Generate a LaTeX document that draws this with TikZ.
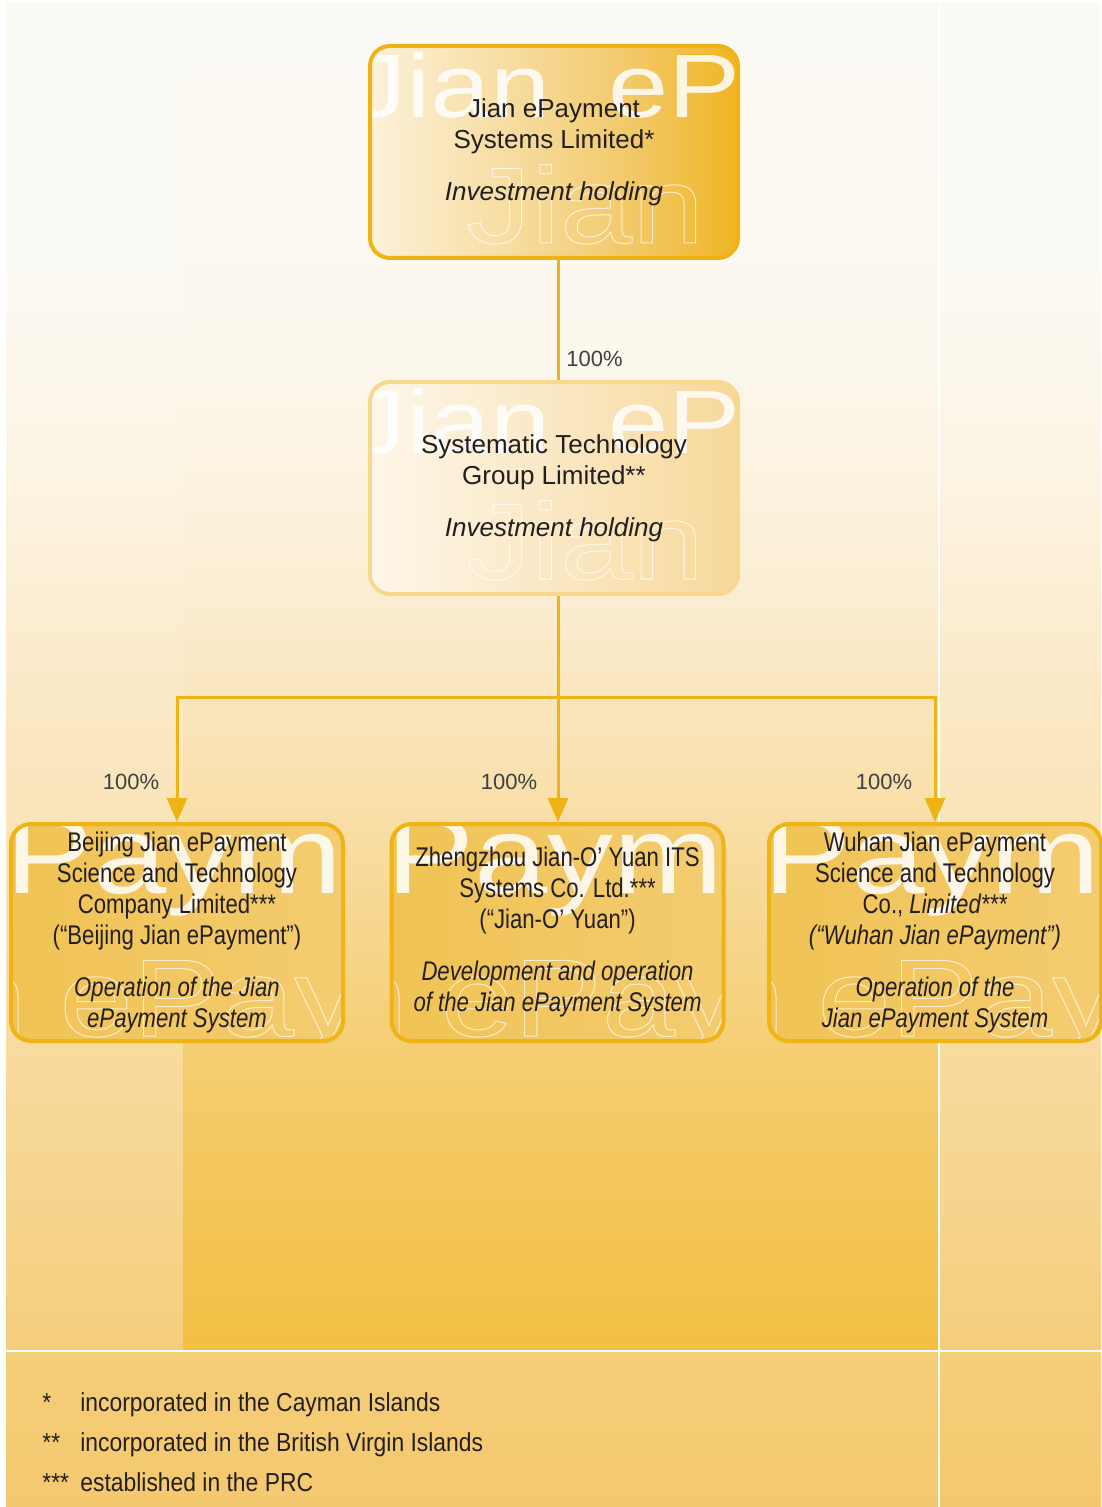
\documentclass[tikz,border=0pt]{standalone}
\usepackage{fontspec}
\setmainfont{Liberation Sans}
\newfontfamily\condfont{Liberation Sans}[FakeStretch=0.82]
\newfontfamily\footfont{Liberation Sans}[FakeStretch=0.88]
\newfontfamily\wmfont{Liberation Sans}[FakeStretch=1.2]
\usetikzlibrary{arrows.meta,calc}

\definecolor{gold}{HTML}{EFB314}
\definecolor{goldlt}{HTML}{F7D88C}
\definecolor{ink}{HTML}{231F20}
\definecolor{lbl}{HTML}{404040}
\definecolor{bgA}{HTML}{FCFAF5}
\definecolor{bgB}{HTML}{FCF5E6}
\definecolor{bgC}{HTML}{FBE9C6}
\definecolor{bgD}{HTML}{F8DBA0}
\definecolor{bgE}{HTML}{F5CE7C}
\definecolor{pnB}{HTML}{FCF8EE}
\definecolor{pnC}{HTML}{FBEDD2}
\definecolor{pnD}{HTML}{F8DCA0}
\definecolor{pnE}{HTML}{F4CB68}
\definecolor{pnF}{HTML}{F2BF42}
\definecolor{ftA}{HTML}{F5CE79}
\definecolor{ftB}{HTML}{F4C86E}
\definecolor{tfA}{HTML}{FCF1DA}
\definecolor{tfB}{HTML}{F6D894}
\definecolor{tfC}{HTML}{F2C762}
\definecolor{tfD}{HTML}{EFB522}
\definecolor{sfA}{HTML}{FDF6E9}
\definecolor{sfB}{HTML}{FAE8C4}
\definecolor{sfC}{HTML}{F7D899}
\definecolor{bfA}{HTML}{F1C354}
\definecolor{bfB}{HTML}{F4CC70}

\pgfdeclareverticalshading{bgsh}{100bp}{color(0bp)=(bgE); color(25bp)=(bgE); color(36.5bp)=(bgD); color(49.1bp)=(bgC); color(58.4bp)=(bgB); color(65.8bp)=(bgA); color(100bp)=(bgA)}
\pgfdeclareverticalshading{pnsh}{100bp}{color(0bp)=(pnF); color(25bp)=(pnF); color(34.3bp)=(pnE); color(43.6bp)=(pnD); color(52.8bp)=(pnC); color(62.1bp)=(pnB); color(75bp)=(bgA); color(100bp)=(bgA)}
\pgfdeclareverticalshading{ftsh}{100bp}{color(0bp)=(ftB); color(25bp)=(ftB); color(75bp)=(ftA); color(100bp)=(ftA)}
\pgfdeclarehorizontalshading{topsh}{100bp}{color(0bp)=(tfA); color(25bp)=(tfA); color(48bp)=(tfB); color(62bp)=(tfC); color(75bp)=(tfD); color(100bp)=(tfD)}
\pgfdeclarehorizontalshading{secsh}{100bp}{color(0bp)=(sfA); color(25bp)=(sfA); color(50bp)=(sfB); color(75bp)=(sfC); color(100bp)=(sfC)}
\pgfdeclarehorizontalshading{botsh}{100bp}{color(0bp)=(bfA); color(25bp)=(bfA); color(75bp)=(bfB); color(100bp)=(bfB)}

\newcommand\wmoutline[1]{\special{pdf:literal direct 1 Tr 0.5 w}#1\special{pdf:literal direct 0 Tr}}

\tikzset{
  boxline/.style={draw=gold, line width=2pt, rounded corners=10pt},
  topbox/.style={boxline, minimum width=184pt, minimum height=106pt, align=center, text=ink, font=\fontsize{13}{15.5}\selectfont},
  secbox/.style={topbox, draw=goldlt},
  botbox/.style={boxline, minimum width=166pt, minimum height=108.5pt, align=center, text=ink, font=\condfont\fontsize{13.5}{15.5}\selectfont},
  conn/.style={draw=gold, line width=1.5pt},
  arr/.style={conn, -{Triangle[width=10pt,length=12pt]}},
  pct/.style={text=lbl, font=\fontsize{11}{13}\selectfont, inner sep=0pt},
  wmfill/.style={text=white, text opacity=0.85, inner sep=0pt, anchor=base west},
  wmline/.style={text=white, inner sep=0pt, anchor=base west},
  foot/.style={text=ink, font=\footfont\fontsize{13}{15}\selectfont, inner sep=0pt, anchor=base west},
  wmbig/.style={font=\wmfont\fontsize{45}{45}\selectfont},
  wmmid/.style={font=\wmfont\fontsize{54}{54}\selectfont},
  wmbot/.style={font=\wmfont\fontsize{55}{55}\selectfont},
}

\begin{document}
\begin{tikzpicture}[x=0.5pt,y=-0.5pt]
\useasboundingbox (0,0) rectangle (1101,1507);
% background
\fill[white] (0,0) rectangle (1101,1507);
\shade[shading=bgsh] (6,3) rectangle (1101,1350);
\shade[shading=pnsh] (183,3) rectangle (938,1350);
\shade[shading=ftsh] (6,1352) rectangle (1101,1507);
\draw[white, line width=1pt] (6,1351) -- (1101,1351);
\draw[white, line width=1pt] (939,3) -- (939,1507);

% top box
\begin{scope}
  \clip[rounded corners=10pt] (370,46) rectangle (738,258);
  \shade[shading=topsh] (370,46) rectangle (738,258);
  \node[wmfill, wmbig] (wt1) at (352,118) {Jian};
  \node[wmfill, wmbig] (wt2) at (608,118) {eP};
  \begin{scope}[opacity=0.7]
    \node[wmline, wmmid] (wt3) at (466,243) {\wmoutline{Jian}};
  \end{scope}
\end{scope}
\node[topbox] (top) at (554,152) {Jian ePayment\\Systems Limited*\\[10.5pt]\textit{Investment holding}};

% second box
\begin{scope}
  \clip[rounded corners=10pt] (370,382) rectangle (738,594);
  \shade[shading=secsh] (370,382) rectangle (738,594);
  \node[wmfill, wmbig] (ws1) at (352,454) {Jian};
  \node[wmfill, wmbig] (ws2) at (608,454) {eP};
  \begin{scope}[opacity=0.7]
    \node[wmline, wmmid] (ws3) at (466,579) {\wmoutline{Jian}};
  \end{scope}
\end{scope}
\node[secbox] (mid) at (554,488) {Systematic Technology\\Group Limited**\\[10.5pt]\textit{Investment holding}};

% bottom boxes backgrounds
\foreach \bx/\nm in {11/bl, 392/bm, 769/br}{
  \begin{scope}
    \clip[rounded corners=10pt] (\bx,824) rectangle ({\bx+332},1041);
    \shade[shading=botsh] (\bx,824) rectangle ({\bx+332},1041);
    \node[wmfill, wmbot] (wf\nm) at ({\bx-6},893) {Payme};
    \begin{scope}[opacity=0.7]
      \node[wmline, wmbot] (wo\nm) at ({\bx+48},1036) {\wmoutline{ePay}};
      \node[text=white, inner sep=0pt, anchor=base east, wmbot] (wn\nm) at ({\bx+16},1036) {\wmoutline{n}};
    \end{scope}
  \end{scope}
}
\node[botbox] (bl) at (177,932.5) {Beijing Jian ePayment\\Science and Technology\\Company Limited***\\(“Beijing Jian ePayment”)\\[10.5pt]\textit{Operation of the Jian}\\\textit{ePayment System}};
\node[botbox] (bm) at (557.5,932.5) {Zhengzhou Jian-O’ Yuan ITS\\Systems Co. Ltd.***\\(“Jian-O’ Yuan”)\\[10.5pt]\textit{Development and operation}\\\textit{of the Jian ePayment System}};
\node[botbox] (br) at (935,932.5) {Wuhan Jian ePayment\\Science and Technology\\Co., \textit{Limited***}\\\textit{(“Wuhan Jian ePayment”)}\\[10.5pt]\textit{Operation of the}\\\textit{Jian ePayment System}};

% connectors
\coordinate (jn) at (558,697);
\draw[conn] (top.south -| jn) -- (mid.north -| jn);
\draw[conn] (mid.south -| jn) -- (jn);
\draw[arr] (jn) -| (bl.north);
\draw[arr] (jn) -- (jn |- bm.north);
\draw[arr] (jn) -| (br.north);

% labels
\node[pct] (p0) at (594.5,359) {100\%};
\node[pct] (p1) at (131,782) {100\%};
\node[pct] (p2) at (509,782) {100\%};
\node[pct] (p3) at (884,782) {100\%};

% footer
\node[foot] (s1) at (42,1411) {*};
\node[foot] (f1) at (80,1411) {incorporated in the Cayman Islands};
\node[foot] (s2) at (42,1451) {**};
\node[foot] (f2) at (80,1451) {incorporated in the British Virgin Islands};
\node[foot] (s3) at (42,1491) {***};
\node[foot] (f3) at (80,1491) {established in the PRC};
\end{tikzpicture}
\end{document}
